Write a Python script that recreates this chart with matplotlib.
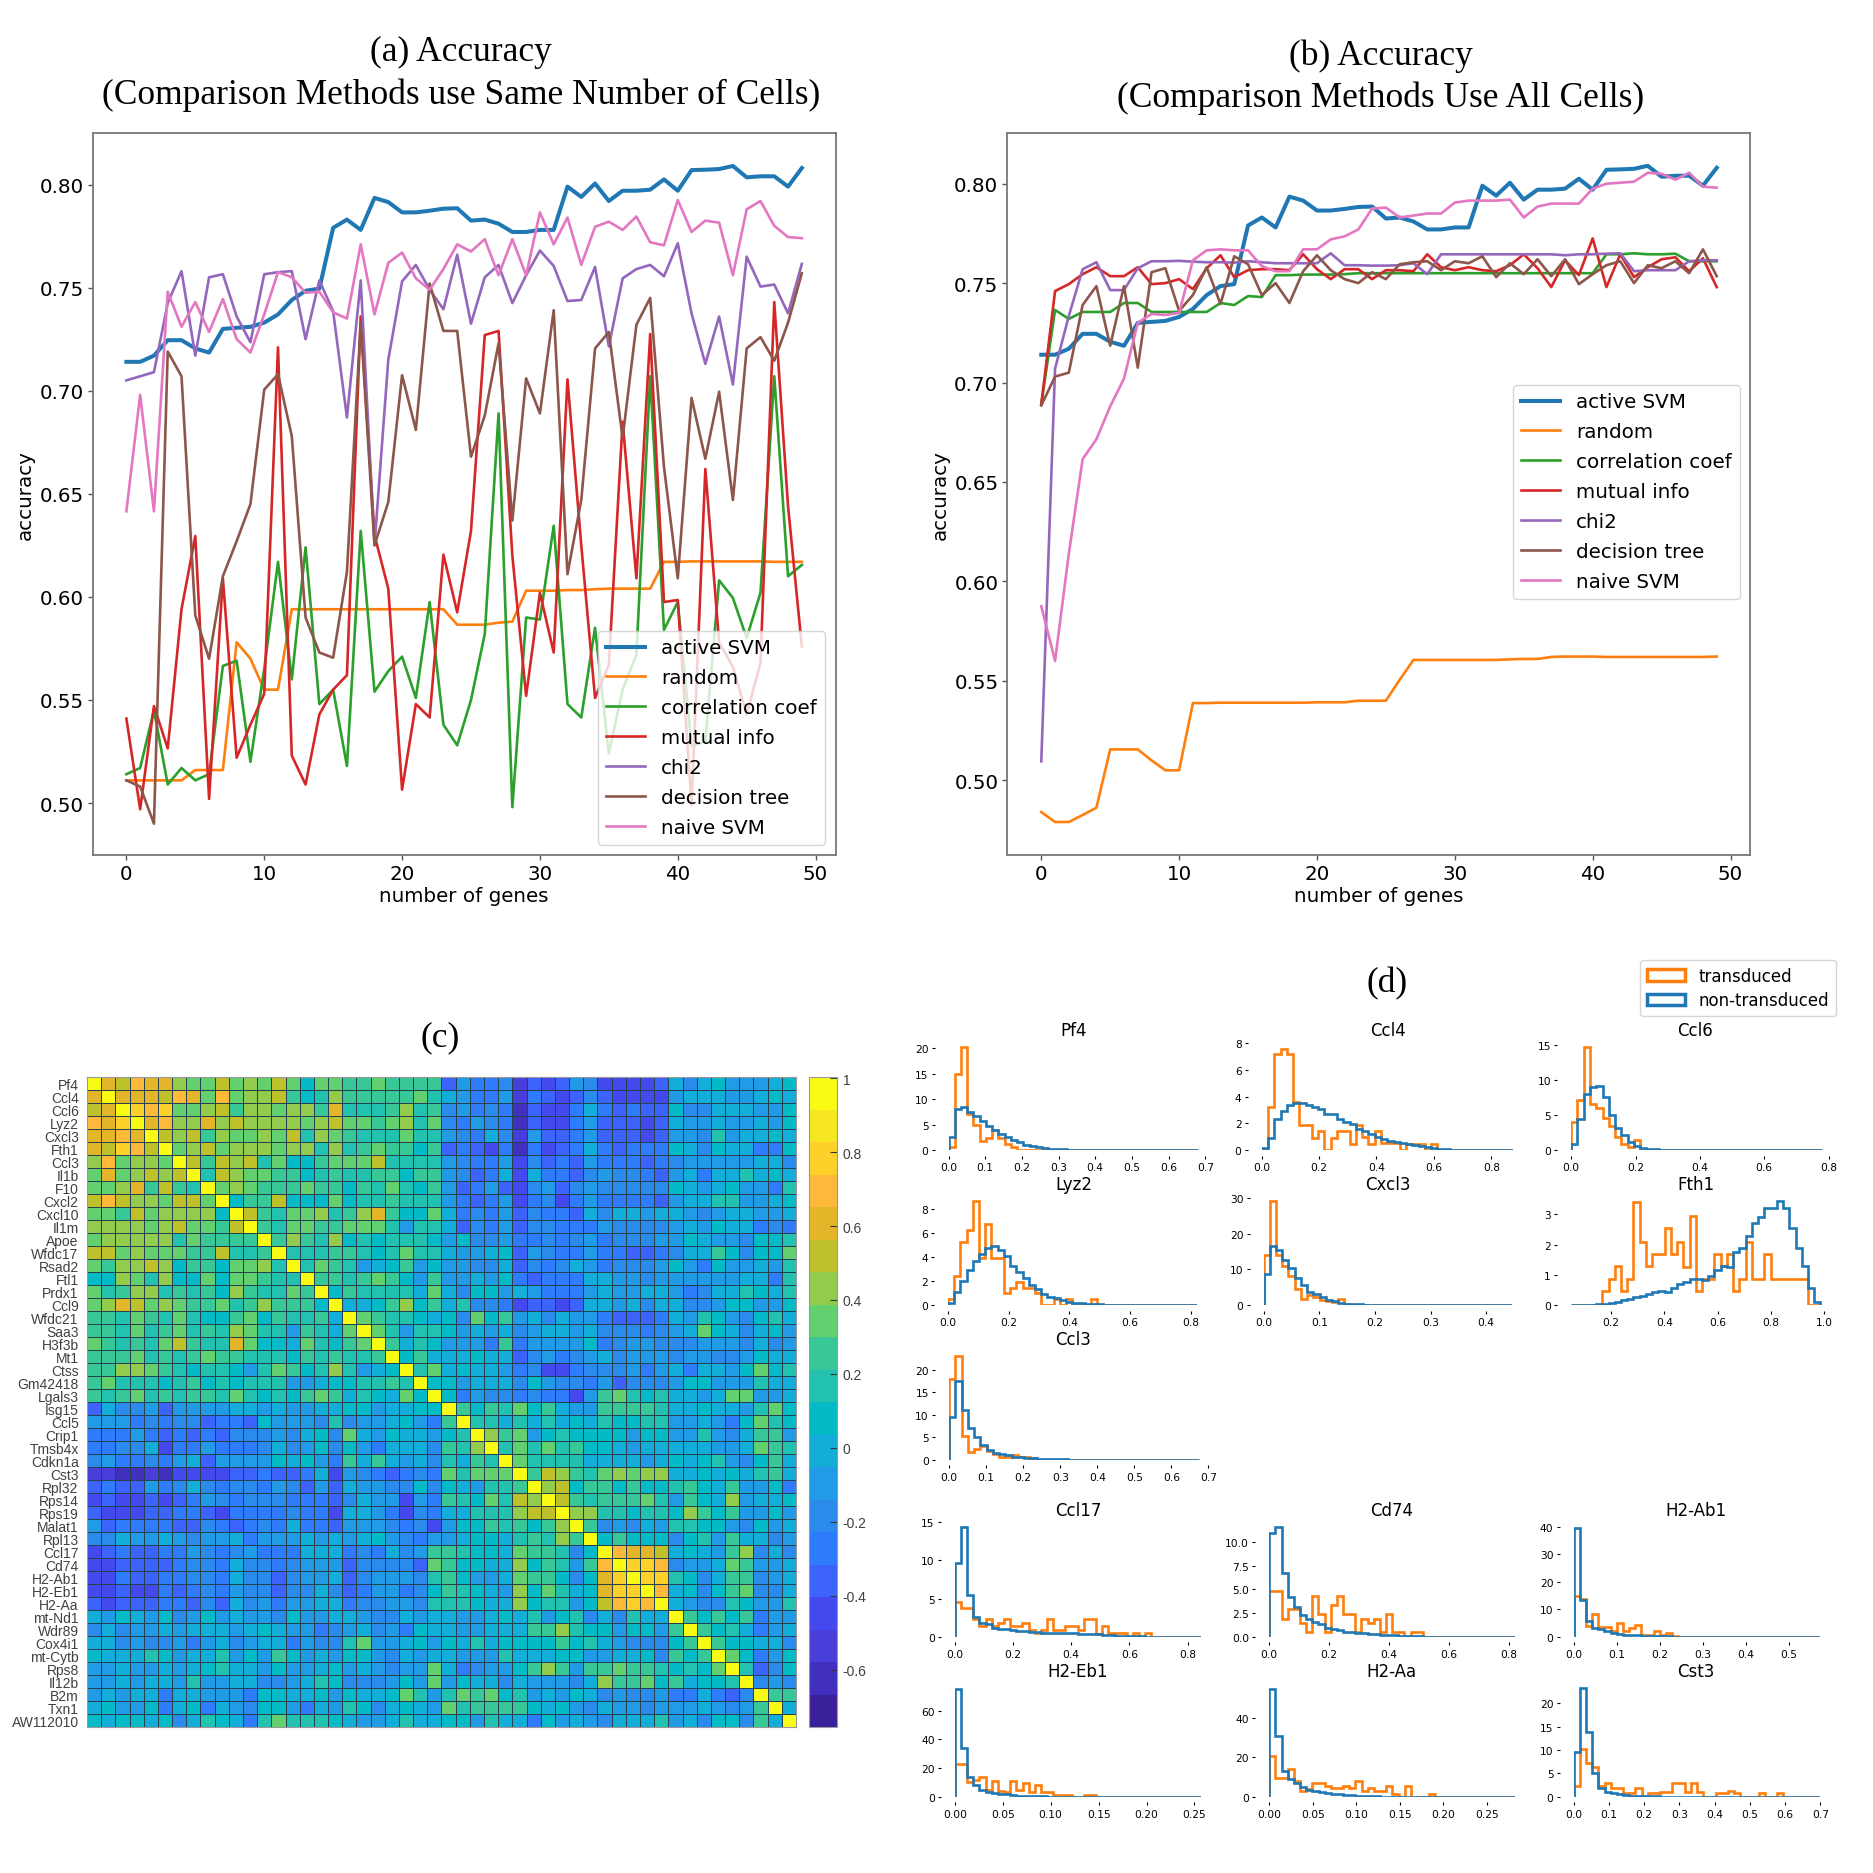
import numpy as np
import matplotlib
matplotlib.use('Agg')
import matplotlib.pyplot as plt
from matplotlib.colors import ListedColormap, Normalize
from matplotlib.patches import Patch

W, H = 1874, 1874
SERIF = 'Liberation Serif'
HELV = 'Liberation Sans'

genes = list(range(50))

active_svm = [.714,.714,.717,.7245,.7245,.7205,.7185,.730,.7305,.731,.733,.737,.744,.7485,.7495,.779,.783,.778,.7935,.7915,
              .7865,.7865,.7873,.7883,.7885,.7825,.783,.781,.777,.777,.778,.778,.799,.794,.8005,.792,.797,.797,.7975,.8025,
              .797,.807,.8072,.8075,.809,.8035,.804,.804,.799,.808]

# panel (a)
random_a = [.511,.511,.511,.511,.511,.516,.516,.516,.578,.570,.555,.555,.594,.594,.594,.594,.594,.594,.594,.594,
            .594,.594,.594,.594,.5865,.5865,.5865,.5875,.588,.603,.603,.603,.6033,.6033,.6037,.604,.604,.604,.604,.617,
            .617,.6172,.6172,.6172,.6172,.6172,.6172,.617,.617,.617]
corr_a = [.514,.517,.545,.509,.517,.511,.514,.5665,.569,.520,.565,.617,.560,.624,.548,.555,.518,.632,.554,.564,
          .571,.551,.5975,.538,.528,.550,.582,.689,.498,.590,.589,.6345,.548,.5415,.585,.524,.555,.572,.707,.584,
          .5975,.5275,.530,.608,.5995,.580,.602,.707,.610,.6155]
mutual_a = [.541,.497,.547,.5265,.594,.6295,.502,.609,.522,.538,.553,.721,.523,.509,.543,.555,.562,.736,.630,.604,
            .5065,.548,.5415,.6205,.5925,.632,.727,.729,.620,.552,.602,.573,.7055,.625,.551,.567,.685,.609,.7275,.5975,
            .5985,.499,.662,.578,.566,.543,.568,.743,.644,.576]
chi2_a = [.705,.707,.709,.7425,.758,.717,.755,.7565,.736,.7235,.7565,.7575,.758,.725,.7535,.7385,.687,.7535,.625,.715,
          .753,.761,.749,.7395,.766,.7325,.755,.761,.7425,.756,.768,.7605,.7435,.744,.760,.7215,.7545,.759,.761,.7555,
          .7715,.7375,.713,.736,.703,.765,.7505,.7515,.7375,.7615]
tree_a = [.511,.508,.490,.719,.707,.591,.570,.610,.627,.645,.7005,.708,.678,.590,.573,.5705,.612,.733,.625,.646,
          .7075,.681,.752,.729,.729,.668,.688,.723,.637,.706,.689,.739,.611,.647,.7205,.7285,.677,.732,.745,.663,
          .609,.6965,.667,.6995,.647,.7205,.726,.7145,.733,.757]
naive_a = [.6415,.698,.6415,.748,.731,.743,.7285,.7445,.725,.7185,.737,.7575,.755,.7475,.748,.738,.735,.771,.737,.762,
           .767,.7545,.749,.759,.771,.7675,.7735,.756,.7735,.756,.7865,.771,.784,.761,.7795,.782,.778,.7845,.772,.7705,
           .7925,.777,.7825,.7815,.756,.788,.792,.780,.7745,.774]

# panel (b)
random_b = [.484,.479,.479,.4825,.4862,.5155,.5155,.5155,.510,.505,.505,.5388,.5388,.539,.539,.539,.539,.539,.539,.539,
            .5392,.5392,.5392,.540,.540,.540,.5505,.5605,.5605,.5605,.5605,.5605,.5605,.5605,.5608,.561,.561,.562,.5622,.5622,
            .5622,.562,.562,.562,.562,.562,.562,.562,.562,.5622]
corr_b = [.689,.7365,.732,.7355,.7355,.7355,.740,.740,.7355,.7355,.7355,.7355,.7355,.740,.739,.7435,.743,.754,.754,.7543,
          .7543,.7543,.7545,.755,.755,.755,.755,.755,.755,.755,.755,.755,.755,.755,.755,.755,.755,.755,.755,.755,
          .755,.7645,.7645,.765,.7645,.7645,.7648,.761,.761,.761]
mutual_b = [.689,.746,.7495,.7545,.758,.7535,.7535,.758,.7495,.750,.752,.747,.7575,.764,.753,.7565,.757,.757,.7565,.7645,
            .757,.752,.757,.757,.752,.7565,.7565,.756,.7645,.758,.7565,.758,.7565,.756,.759,.7645,.7575,.748,.7615,.754,
            .7725,.748,.7645,.753,.758,.762,.763,.756,.7625,.748]
chi2_b = [.5095,.707,.7335,.757,.7605,.7465,.7465,.7575,.761,.761,.7612,.7608,.7605,.7605,.7603,.761,.7605,.760,.760,.760,
          .760,.765,.759,.759,.7588,.7588,.759,.760,.7545,.7645,.7645,.7645,.7645,.7645,.7645,.7645,.7645,.7645,.764,.7645,
          .7645,.7648,.765,.756,.7565,.7565,.7565,.761,.7615,.7615]
tree_b = [.6885,.703,.705,.739,.7485,.7185,.7485,.7075,.7555,.7575,.736,.744,.758,.7395,.7635,.7595,.744,.750,.740,.756,
          .764,.7565,.752,.750,.7555,.752,.7595,.7605,.761,.7565,.761,.760,.7635,.753,.760,.7545,.762,.7535,.762,.7495,
          .7545,.759,.761,.750,.759,.7575,.761,.755,.767,.7535]
naive_b = [.5875,.560,.614,.6615,.6715,.688,.702,.730,.7345,.734,.735,.7615,.7665,.767,.7665,.7665,.7585,.756,.756,.767,
           .767,.772,.7735,.777,.7875,.788,.783,.784,.785,.785,.7905,.7915,.7915,.7915,.792,.783,.7885,.79,.79,.79,
           .7975,.80,.8005,.801,.8055,.805,.802,.8055,.7985,.798]

method_names = ['active SVM', 'random', 'correlation coef', 'mutual info', 'chi2', 'decision tree', 'naive SVM']

# panel (c) gene labels
heat_genes = ['Pf4','Ccl4','Ccl6','Lyz2','Cxcl3','Fth1','Ccl3','Il1b','F10','Cxcl2','Cxcl10','Il1m','Apoe','Wfdc17','Rsad2',
              'Ftl1','Prdx1','Ccl9','Wfdc21','Saa3','H3f3b','Mt1','Ctss','Gm42418','Lgals3','Isg15','Ccl5','Crip1','Tmsb4x',
              'Cdkn1a','Cst3','Rpl32','Rps14','Rps19','Malat1','Rpl13','Ccl17','Cd74','H2-Ab1','H2-Eb1','H2-Aa','mt-Nd1',
              'Wdr89','Cox4i1','mt-Cytb','Rps8','Il12b','B2m','Txn1','AW112010']

# correlation x 100, upper triangle only: row i, columns i..24
heat_upper_left = [
    [100,60,51,69,60,60,43,34,34,51,34,43,34,51,34,8,34,34,25,25,34,25,25,25,25],
    [100,60,60,60,51,69,60,34,69,34,43,43,51,25,8,16,43,25,25,25,25,25,34,16],
    [100,78,69,78,34,34,43,51,25,43,43,34,43,43,25,60,16,16,16,25,43,16,25],
    [100,60,69,43,43,60,43,51,43,43,43,43,34,43,51,34,34,25,34,43,16,34],
    [100,51,43,51,25,43,34,34,43,34,51,16,43,34,25,16,16,16,34,16,16],
    [100,34,43,51,34,43,43,43,34,43,43,16,43,16,25,34,25,25,8,25],
    [100,51,25,51,43,51,16,34,8,8,25,34,34,34,51,16,16,16,16],
    [100,16,51,43,34,34,25,25,8,16,25,16,16,25,25,8,25,25],
    [100,34,43,34,25,25,25,34,25,25,8,25,16,34,16,8,25],
    [100,8,25,25,51,8,8,8,34,8,16,16,25,16,16,16],
    [100,51,25,16,34,34,43,16,25,43,60,25,8,8,34],
    [100,25,16,34,34,25,25,34,34,34,16,-10,16,16],
    [100,25,43,25,16,43,8,16,8,16,16,16,8],
    [100,16,16,16,25,25,16,8,16,34,16,16],
    [100,16,34,25,16,-10,-1,8,25,-10,8],
    [100,25,25,16,25,34,25,8,-10,25],
    [100,8,25,16,16,16,16,-1,34],
    [100,-1,-1,8,25,43,8,25],
    [100,34,25,16,16,8,-1],
    [100,34,16,-10,16,16],
    [100,25,-1,16,8],
    [100,8,25,-1],
    [100,16,34],
    [100,8],
    [100],
]
# rows 0..24, columns 25..49
heat_upper_right = [
    [-36,-10,-27,-27,-19,-53,-36,-45,-36,-10,-19,-45,-45,-45,-45,-36,-1,-19,-1,8,-10,-10,-10,-1,8],
    [-1,-10,-27,-27,-10,-53,-27,-36,-45,-36,-19,-36,-45,-45,-45,-45,-10,-1,-1,-1,-10,-10,-1,8,-1],
    [-19,-10,-27,-19,-27,-62,-36,-45,-45,-27,-1,-27,-36,-27,-36,-36,8,-19,-19,-1,-1,-1,-10,-10,8],
    [-19,-27,-10,-19,-27,-62,-36,-45,-45,-27,-10,-36,-36,-36,-45,-36,-1,-10,-10,-1,-10,-10,-1,-10,8],
    [-10,-19,-27,-1,-19,-53,-10,-36,-36,-27,-10,-36,-36,-36,-45,-36,-10,-10,-19,16,-10,-1,-1,8,-1],
    [-36,-27,-36,-45,-27,-62,-27,-45,-36,-27,-1,-27,-36,-27,-27,-27,8,-1,-19,8,-1,-1,-27,-27,8],
    [-10,-19,-27,-27,-10,-45,-19,-36,-27,-36,-10,-27,-27,-27,-36,-27,-19,-10,-10,-10,-10,-10,-1,-1,-19],
    [-10,-19,-36,-27,-1,-45,-1,-27,-27,-36,-19,-10,-19,-19,-27,-36,-10,-1,-27,-1,-1,16,-1,8,-1],
    [-10,-36,-27,-10,-36,-45,-19,-10,-36,-19,-10,-19,-19,-19,-19,-19,8,-1,-10,-1,8,-10,-10,-27,16],
    [-10,-27,-36,-27,-10,-45,-27,-19,-45,-27,-10,-27,-27,-27,-27,-36,-10,-1,-1,16,16,-10,-10,-1,8],
    [-1,-27,-19,-27,-10,-36,-19,-27,-27,-36,-1,-19,-1,-1,-10,-1,-1,-10,-19,-10,-1,-1,-10,-10,-1],
    [-1,-36,-19,-27,-10,-36,-19,-19,-27,-27,-27,-10,-19,-19,-19,-19,-10,-1,-10,8,-1,-1,-27,-19,-27],
    [-10,8,-19,-19,-10,-27,-27,-19,-27,-19,-10,-27,-19,-19,-19,-10,-10,8,-1,-10,-10,-19,8,8,16],
    [-1,-10,-10,-1,8,-36,-10,-19,-27,-27,-10,-27,-27,-36,-36,-27,-19,-1,-1,25,8,-19,8,8,34],
    [-10,-10,-19,-19,-1,-36,-19,-27,-19,-1,-10,-27,-19,-19,-19,-10,8,-10,-27,8,-10,-10,-1,-10,16],
    [-10,-10,-1,-10,8,-27,-36,-27,-27,-27,-1,-1,-10,-10,-19,-10,-10,-10,-10,-10,-10,-1,-1,-27,16],
    [-1,-19,8,8,-10,-1,-10,-27,-27,-27,-10,-1,-10,-10,-1,-1,-10,-27,-19,-1,-1,16,8,-1,16],
    [-1,16,-19,-19,-27,-45,-36,-36,-45,-36,-1,-1,-10,-1,-19,-1,-1,-19,-19,-10,8,8,-10,-10,8],
    [8,-19,34,8,25,-10,-1,-19,-1,-10,-10,-27,-36,-36,-36,-27,-1,-10,16,8,-10,-19,8,16,-1],
    [8,-10,-1,-10,-1,-19,-10,-1,-1,-10,-1,-19,-19,-19,-27,-19,-10,-1,34,8,-1,-19,-1,8,-10],
    [-10,-10,-10,-27,25,-27,-10,-10,-10,-10,8,-27,-19,-10,-10,-19,-19,-19,-10,-10,-10,-19,-1,-19,-10],
    [-1,-1,8,-1,-1,-36,-19,-10,-27,-19,-10,-1,-19,-10,-10,-10,-19,-10,-10,-19,-19,-10,8,-1,-1],
    [-1,8,-1,-1,-10,-27,-19,-45,-45,-27,-19,-19,-19,-10,-27,-10,-1,-27,-1,-1,-10,8,34,8,16],
    [8,-10,-1,-1,-1,-19,8,-10,-19,-19,-27,-10,-36,-19,-19,-19,-10,8,8,-10,-10,-10,16,-1,-1],
    [8,-27,-10,-19,-19,-27,-19,-27,-27,-45,-10,25,34,16,8,16,-1,-1,-10,-1,34,34,-10,-10,-1],
]
# rows 25..49, columns i..49
heat_lower_block = [
    [100,25,8,25,16,34,8,25,-1,-10,-10,25,25,25,25,16,-1,-1,8,-1,-1,-10,16,34,8],
    [100,16,16,-1,16,-1,16,-1,8,-1,16,8,8,16,16,-10,-10,-1,-10,-27,8,34,16,8],
    [100,43,25,34,-10,8,16,8,8,8,8,-10,8,8,-10,-10,16,-10,-19,-1,25,25,-10],
    [100,16,34,16,34,16,25,8,8,-1,-10,-1,-1,-1,-1,-1,-10,-10,-1,34,25,16],
    [100,34,16,16,16,16,-1,-1,-1,-1,-10,-1,8,-1,8,16,-10,-19,8,25,-1],
    [100,25,51,43,25,16,34,43,34,43,43,-1,-1,8,-1,8,-1,16,25,-1],
    [100,43,51,8,25,25,8,25,8,8,16,25,8,-1,25,-10,-10,8,-27],
    [100,51,25,16,25,25,25,34,16,-10,25,8,-1,43,-10,-1,-1,8],
    [100,43,43,16,16,8,16,16,8,43,25,8,25,-10,-10,8,-10],
    [100,25,-19,-10,-19,-1,-10,16,16,8,8,-10,-19,8,-10,-1],
    [100,8,25,8,8,8,-19,8,16,-10,25,-1,-1,-19,-10],
    [100,69,60,60,51,-1,8,-1,-10,25,43,-19,-1,-19],
    [100,78,78,69,-19,-10,-10,-1,34,25,-10,-10,-1],
    [100,78,78,16,8,-19,-1,25,25,-19,-10,-1],
    [100,69,-1,8,-19,8,25,34,-19,-19,-1],
    [100,-1,-10,-19,-19,16,8,-10,-10,16],
    [100,25,8,25,8,25,-27,-10,-10],
    [100,25,8,16,-1,-27,-10,-1],
    [100,25,8,8,-1,-1,-19],
    [100,34,8,-27,-10,8],
    [100,16,-36,-19,8],
    [100,-19,-10,-19],
    [100,25,25],
    [100,-1],
    [100],
]
level_colors = ['#3a219b','#4030bd','#4a3edb','#4349ee','#3c63fb','#2e7cfb','#2a8bec','#219be6','#12add9','#03bac6',
                '#23c1b0','#38c797','#62d06f','#93cb4c','#bfc12b','#e3b62a','#ffb93a','#fdd02a','#f6e720','#f9fb15']

# panel (d): non-transduced / transduced bin heights, trailing zeros left out
pf4_non = [2.6,8,8.5,7.5,6.7,5.6,4.8,3.9,3.2,2.6,2.0,1.5,1.0,.8,.5,.35,.25,.15,.1,.08,.05]
pf4_tr = [.6,15,20.2,7,5,1.8,2.4,4,2.4,1.2,.6]
ccl4_non = [.15,.9,2.3,2.9,3.4,3.55,3.5,3.35,3.2,3.1,2.7,2.7,2.3,2.1,1.95,1.6,1.4,1.2,1.0,.85,.7,.6,.55,.45,.35,.27,.2,.12,.1,.05,.03]
ccl4_tr = [0,3.2,7.2,7.6,7.2,3.6,1.9,1.9,.9,1.4,0,.9,1.4,1.4,.45,1.9,1.0,.45,1.4,.5,.5,.5,0,.45,.45,.45,0,.45]
ccl6_non = [.8,4.4,8,9.1,9.2,7.6,5,3.2,2.1,1.2,.6,.3,.15,.08,.05]
ccl6_tr = [4,7.2,14.8,6.6,6,4.6,3.4,1.9,.9,.45,1.5]
lyz2_non = [.2,1.1,2,2.9,3.7,4.3,4.8,4.9,4.6,4.1,3.3,2.8,2.3,1.7,1.3,.9,.65,.6,.45,.25,.2,.15,.1,.08,.05,.04,.02]
lyz2_tr = [.5,2.4,5.3,6.3,8.7,3.9,6.8,3.9,3.9,1,1.45,1.95,1.45,1.45,1,0,0,.5,0,.5,0,0,0,.5]
cxcl3_non = [8.8,16.5,15.4,12.5,10.3,7.5,5.5,3.7,3,2.2,1.4,1,.6,.35,.2,.15,.1,.05]
cxcl3_tr = [14,29,14,11,8,4.5,1.8,2.8,2.2,1.5,1,.8,1.8,.3]
fth1_non = [0,0,0,.01,.02,.03,.06,.1,.15,.2,.25,.3,.35,.42,.45,.42,.55,.7,.75,.85,.85,.82,.95,1.15,1.28,1.25,1.75,1.9,2.3,2.7,2.9,3.2,3.2,3.45,3.2,2.55,1.9,1.3,.55,.1]
fth1_tr = [0,0,0,0,0,.45,.85,1.3,.45,.85,3.4,2.1,1.3,1.7,1.7,2.55,1.7,2.1,1.25,2.95,.45,.85,.85,1.7,1.3,1.7,.45,.85,2.1,.85,.85,1.7,.85,.85,.85,.85,.85,.85]
ccl3_non = [9.5,17.5,11,7,5,3.2,2.2,1.6,1.3,1,.7,.5,.4,.3,.2,.15,.1,.07,.05,.03,.02]
ccl3_tr = [18,23,5.3,1.8,2.4,3,1.9,1.3,.6,.5,1.1,.6,.6,.3]
ccl17_non = [9.7,14.4,5.5,2.6,1.8,1.6,1.2,1,.95,.85,.8,.75,.65,.6,.55,.5,.5,.55,.45,.45,.4,.35,.3,.3,.25,.2,.15,.1,.08,.05,.03]
ccl17_tr = [4.6,3.7,3.7,2.3,1.4,2.3,1.4,1.85,2.3,1.4,1.4,1.85,.9,.45,.9,2.3,.9,.9,1.4,1.4,.9,2.3,2.3,.4,1.4,.45,.45,.45,0,.45,0,.45]
cd74_non = [11,11.6,6.7,4.2,3.1,2.3,1.9,1.6,1.3,.95,.8,.7,.55,.45,.4,.35,.3,.25,.2,.2,.15,.1,.07,.05,.03]
cd74_tr = [4.8,4.8,1.9,2.9,2.9,1.4,.5,4.3,2.4,.5,3.35,4.3,2.4,2.4,.5,1.9,1.45,1.9,.5,2.4,.5,.5,0,.5,.5]
ab1_non = [39.8,13.3,5.8,3.3,2.7,1.9,1.2,1,.75,.6,.5,.35,.25,.2,.15,.1,.05,.03]
ab1_tr = [15,13.8,4,8.2,3.5,3.5,2.2,5,2,3,4.1,.8,.8,2.2,.8,1.4,.4]
eb1_non = [75.5,34,13.5,8,5,3.5,2.5,2,1.6,1,.7,.5,.4,.3,.2,.1]
eb1_tr = [23,23,10.5,12,14,5,11,4,3,11,5,9.5,3,8.5,3,3,1.5,1.5,1.5,0,0,1.5,1.5]
aa_non = [55,31,13,9,7,5,3.5,3,2.5,2,1.5,1.2,1,.8,.6,.5,.3,.2]
aa_tr = [21,9.7,9.7,14,8,2.8,4,7,7,5.5,4.2,4.2,5.5,4.2,8.2,2.8,4.2,2.8,2.8,5.5,1.4,0,5.5,0,0,0,1.4]
cst3_non = [9.6,23.2,13.8,5,1.9,1.0,.7,.5,.35,.25,.2,.15,.1,.08]
cst3_tr = [2.2,10.2,7.2,6.3,2.2,2.9,1.8,1.8,.7,.7,1.8,0,.7,.7,1.1,1.1,2.9,2.9,1.1,2.9,1.1,0,0,.7,.7,1.3,.7,0,0,0,.7,0,0,.7]

hist_data = {
    'Pf4': (pf4_non, pf4_tr), 'Ccl4': (ccl4_non, ccl4_tr), 'Ccl6': (ccl6_non, ccl6_tr),
    'Lyz2': (lyz2_non, lyz2_tr), 'Cxcl3': (cxcl3_non, cxcl3_tr), 'Fth1': (fth1_non, fth1_tr),
    'Ccl3': (ccl3_non, ccl3_tr), 'Ccl17': (ccl17_non, ccl17_tr), 'Cd74': (cd74_non, cd74_tr),
    'H2-Ab1': (ab1_non, ab1_tr), 'H2-Eb1': (eb1_non, eb1_tr), 'H2-Aa': (aa_non, aa_tr), 'Cst3': (cst3_non, cst3_tr),
}

# layout: x-limits, bin range, y-top, pixel box (left, right, baseline, top), title pos, ticks
hist_layout = {
    'Pf4': ((0, .7), (0, .68), 21, (948.5, 1205.3, 1151, 1044.1), (1073.4, 1031), [0,.1,.2,.3,.4,.5,.6,.7], [0,5,10,15,20]),
    'Ccl4': ((0, .875), (0, .875), 8.1, (1261.7, 1512.8, 1151, 1043), (1388, 1031), [0,.2,.4,.6,.8], [0,2,4,6,8]),
    'Ccl6': ((0, .8), (0, .78), 15.5, (1571.2, 1828.6, 1151, 1043), (1695.5, 1031), [0,.2,.4,.6,.8], [0,5,10,15]),
    'Lyz2': ((0, .82), (0, .82), 9, (947.9, 1196.7, 1306, 1198.4), (1073.4, 1185), [0,.2,.4,.6,.8], [0,2,4,6,8]),
    'Cxcl3': ((0, .447), (0, .447), 30, (1263.6, 1512.4, 1306, 1198.9), (1388, 1185), [0,.1,.2,.3,.4], [0,10,20,30]),
    'Fth1': ((.05, 1.0), (.05, .986), 3.6, (1571.1, 1824.2, 1306, 1197.3), (1695.5, 1185), [.2,.4,.6,.8,1.0], [0,1,2,3]),
    'Ccl3': ((0, .7), (0, .675), 24, (949.1, 1208.5, 1460.7, 1352.7), (1073.4, 1340), [0,.1,.2,.3,.4,.5,.6,.7], [0,5,10,15,20]),
    'Ccl17': ((0, .845), (0, .845), 15, (954.8, 1200.6, 1637.7, 1523.3), (1078, 1510.7), [0,.2,.4,.6,.8], [0,5,10,15]),
    'Cd74': ((0, .82), (0, .82), 12, (1269.3, 1515, 1637.7, 1524.4), (1391.7, 1510.7), [0,.2,.4,.6,.8], [0,2.5,5,7.5,10]),
    'H2-Ab1': ((0, .572), (0, .572), 41, (1573.7, 1819.7, 1637.7, 1525.3), (1696, 1510.7), [0,.1,.2,.3,.4,.5], [0,10,20,30,40]),
    'H2-Eb1': ((0, .257), (0, .257), 76, (954.8, 1201.2, 1797.7, 1689), (1078, 1671.7), [0,.05,.1,.15,.2,.25], [0,20,40,60]),
    'H2-Aa': ((0, .283), (0, .283), 56, (1269.3, 1515.5, 1797.7, 1687.9), (1391.7, 1671.7), [0,.05,.1,.15,.2,.25], [0,20,40]),
    'Cst3': ((0, .7), (0, .7), 24, (1573.7, 1820.4, 1797.7, 1685.6), (1696, 1671.7), [0,.1,.2,.3,.4,.5,.6,.7], [0,5,10,15,20]),
}


def px_axes(fig, left, right, bottom, top):
    return fig.add_axes([left / W, 1 - bottom / H, (right - left) / W, (bottom - top) / H])


def px_text(fig, x, y, s, **kw):
    fig.text(x / W, 1 - y / H, s, ha='center', va='center', **kw)


def plot_accuracy(ax, series, ylim, yticks, legend_anchor):
    colors = ['tab:blue', 'tab:orange', 'tab:green', 'tab:red', 'tab:purple', 'tab:brown', 'tab:pink']
    for i, (name, vals) in enumerate(zip(method_names, series)):
        ax.plot(genes, vals, color=colors[i], lw=2.9 if i == 0 else 1.9, label=name)
    ax.set_xlim(-2.45, 51.45)
    ax.set_ylim(*ylim)
    ax.set_xticks([0, 10, 20, 30, 40, 50])
    ax.set_yticks(yticks)
    ax.set_yticklabels(['%.2f' % t for t in yticks])
    ax.tick_params(labelsize=14.3, length=3.5, width=1, color='#555555', pad=3)
    ax.set_xlabel('number of genes', fontsize=14.3, labelpad=2)
    ax.set_ylabel('accuracy', fontsize=14.3, labelpad=3.5)
    for s in ax.spines.values():
        s.set_color('#777777')
        s.set_linewidth(1.3)
    ax.legend(loc='lower right', bbox_to_anchor=legend_anchor, borderaxespad=0, fontsize=14.3, framealpha=0.8,
              borderpad=0.4, labelspacing=0.55)


fig = plt.figure(figsize=(W / 100, H / 100), dpi=100)

ax_a = px_axes(fig, 92.6, 835.6, 856, 134)
plot_accuracy(ax_a, [active_svm, random_a, corr_a, mutual_a, chi2_a, tree_a, naive_a], (.4748, .825),
              [.5, .55, .6, .65, .7, .75, .8], (.9857, .0139))
ax_b = px_axes(fig, 1007.5, 1750.5, 856, 134)
plot_accuracy(ax_b, [active_svm, random_b, corr_b, mutual_b, chi2_b, tree_b, naive_b], (.4624, .8255),
              [.5, .55, .6, .65, .7, .75, .8], (.9859, .3546))

px_text(fig, 461, 52.5, '(a) Accuracy', family=SERIF, fontsize=25.5)
px_text(fig, 461, 95, '(Comparison Methods use Same Number of Cells)', family=SERIF, fontsize=25.5)
px_text(fig, 1381, 56.5, '(b) Accuracy', family=SERIF, fontsize=25.5)
px_text(fig, 1381, 98.5, '(Comparison Methods Use All Cells)', family=SERIF, fontsize=25.5)
px_text(fig, 440, 1038, '(c)', family=SERIF, fontsize=25.5)
px_text(fig, 1387, 984, '(d)', family=SERIF, fontsize=25.5)

# heatmap, mirrored from the upper triangle
heat = np.zeros((50, 50))
for i in range(25):
    row = heat_upper_left[i] + heat_upper_right[i]
    assert len(row) == 50 - i, i
    heat[i, i:] = row
for i in range(25):
    assert len(heat_lower_block[i]) == 25 - i, i + 25
    heat[i + 25, i + 25:] = heat_lower_block[i]
heat = heat + heat.T - np.diag(np.diag(heat))

cmap = ListedColormap(level_colors)
norm = Normalize(-0.755, 1.003)
ax_c = px_axes(fig, 87, 796, 1728, 1078)
mesh = ax_c.pcolormesh(heat / 100, cmap=cmap, norm=norm, edgecolors='#25404f', linewidth=0.7)
ax_c.invert_yaxis()
ax_c.set_xticks([])
ax_c.set_yticks(np.arange(50) + 0.5)
ax_c.set_yticklabels(heat_genes, family=HELV, fontsize=10, color='#404040')
ax_c.tick_params(axis='y', length=0, pad=6)
for s in ax_c.spines.values():
    s.set_color('#999999')

cax = px_axes(fig, 808.7, 837, 1728, 1078)
cb = fig.colorbar(mesh, cax=cax)
cb.set_ticks([-.6, -.4, -.2, 0, .2, .4, .6, .8, 1])
cb.set_ticklabels(['-0.6', '-0.4', '-0.2', '0', '0.2', '0.4', '0.6', '0.8', '1'])
cax.tick_params(direction='in', length=5, width=0.8, color='#333333', labelcolor='#404040', labelsize=10, pad=4)
for t in cax.get_yticklabels():
    t.set_family(HELV)
cb.outline.set_edgecolor('#999999')

# histograms
for name, (xlim, bin_range, ytop, box, title_pos, xticks, yticks) in hist_layout.items():
    non_vals, tr_vals = hist_data[name]
    edges = np.linspace(bin_range[0], bin_range[1], 41)
    ax = px_axes(fig, *box)
    ax.stairs(np.pad(tr_vals, (0, 40 - len(tr_vals))), edges, color='tab:orange', lw=1.9)
    ax.stairs(np.pad(non_vals, (0, 40 - len(non_vals))), edges, color='tab:blue', lw=1.9)
    ax.set_xlim(*xlim)
    ax.set_ylim(0, ytop)
    ax.set_xticks(xticks)
    ax.set_yticks(yticks)
    ax.tick_params(labelsize=7.7, length=2.5, width=0.8, pad=2)
    ax.patch.set_alpha(0)
    ax.spines['left'].set_position(('outward', 10))
    ax.spines['bottom'].set_position(('outward', 4))
    for s in ax.spines.values():
        s.set_visible(False)
    px_text(fig, title_pos[0], title_pos[1], name, fontsize=12)

handles = [Patch(facecolor='none', edgecolor='tab:orange', lw=2.5, label='transduced'),
           Patch(facecolor='none', edgecolor='tab:blue', lw=2.5, label='non-transduced')]
fig.legend(handles=handles, loc='upper right', bbox_to_anchor=(1836 / W, 1 - 961 / H), fontsize=12, framealpha=0.8,
           borderaxespad=0, borderpad=0.4, labelspacing=0.4, handlelength=2.3)

fig.savefig('out.png', dpi=100)
